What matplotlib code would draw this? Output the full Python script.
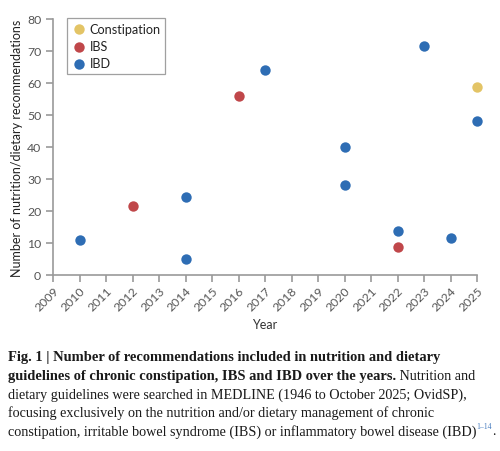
import matplotlib
matplotlib.use("Agg")
import matplotlib.pyplot as plt

# ---- data ----
years_constipation = [2025]
vals_constipation = [58.7]
years_ibs = [2012, 2016, 2022]
vals_ibs = [21.7, 56.0, 8.8]
years_ibd = [2010, 2014, 2014, 2017, 2020, 2020, 2022, 2023, 2024, 2025]
vals_ibd = [11.0, 24.3, 4.9, 64.2, 39.9, 28.1, 13.9, 71.5, 11.7, 48.0]
xticks = list(range(2009, 2026))
yticks = [0, 10, 20, 30, 40, 50, 60, 70, 80]

c_con = "#E3C466"
c_ibs = "#C0474A"
c_ibd = "#2E6DB4"

plt.rcParams['font.family'] = ['Lato', 'DejaVu Sans']

W, H = 500, 452
fig = plt.figure(figsize=(W / 100, H / 100), dpi=100)
ax = fig.add_axes([53 / W, 1 - 276 / H, (477 - 53) / W, (276 - 20) / H])

ms = 56
ax.scatter(years_constipation, vals_constipation, s=ms, color=c_con, label="Constipation", zorder=3, linewidths=0)
ax.scatter(years_ibs, vals_ibs, s=ms, color=c_ibs, label="IBS", zorder=3, linewidths=0)
ax.scatter(years_ibd, vals_ibd, s=ms, color=c_ibd, label="IBD", zorder=3, linewidths=0)

ax.set_xlim(2009, 2025)
ax.set_ylim(0, 80)
ax.set_xticks(xticks)
ax.set_xticklabels([str(t) for t in xticks], rotation=45, ha='right', rotation_mode='anchor')
ax.set_yticks(yticks)
for s in ['top', 'right']:
    ax.spines[s].set_visible(False)
for s in ['left', 'bottom']:
    ax.spines[s].set_color('#9a9a9a')
    ax.spines[s].set_linewidth(1.2)
ax.tick_params(axis='both', colors='#9a9a9a', length=5, width=1.2, labelsize=8.8, labelcolor='#555555')
ax.tick_params(axis='x', pad=2)
for sp in ax.spines.values():
    sp.set_clip_on(False)
for c in ax.collections:
    c.set_clip_on(False)

ax.set_xlabel("Year", fontsize=9, color='#333333', labelpad=4)
ax.set_ylabel("Number of nutrition/dietary recommendations", fontsize=9, color='#222222', labelpad=3)

leg = ax.legend(loc='upper left', bbox_to_anchor=(14 / 424, 1.004), frameon=True, fancybox=False,
                fontsize=9.1, handletextpad=0.2, borderpad=0.38, labelspacing=0.42,
                handlelength=1.2, borderaxespad=0)
leg.get_frame().set_edgecolor('#888888')
leg.get_frame().set_linewidth(0.9)
for t in leg.get_texts():
    t.set_color('#222222')

# ---- caption ----
serif = ['Liberation Serif', 'DejaVu Serif']
renderer = fig.canvas.get_renderer()


def fit(s, target, bold=False):
    p = fig.text(0, 0, s, fontsize=10, family=serif, fontweight='bold' if bold else 'normal')
    w = p.get_window_extent(renderer).width
    p.remove()
    return 10 * target / w


line1 = "Fig. 1 | Number of recommendations included in nutrition and dietary"
fs = fit("dietary guidelines were searched in MEDLINE (1946 to October 2025; OvidSP),", 457)
fsb = fit(line1, 434, bold=True)

x0 = 8 / W
ys = [357.5, 376.5, 395, 413.5, 432]


def put(x, ypix, s, bold=False, color='#1a1a1a', size=None):
    t = fig.text(x, 1 - ypix / H, s, fontsize=size or (fsb if bold else fs), family=serif,
                 fontweight='bold' if bold else 'normal', color=color, va='center', ha='left')
    w = t.get_window_extent(renderer).width / W
    return x + w


put(x0, ys[0], line1, bold=True)
xe = put(x0, ys[1], "guidelines of chronic constipation, IBS and IBD over the years.", bold=True)
put(xe, ys[1], " Nutrition and")
put(x0, ys[2], "dietary guidelines were searched in MEDLINE (1946 to October 2025; OvidSP),")
put(x0, ys[3], "focusing exclusively on the nutrition and/or dietary management of chronic")
xe = put(x0, ys[4], "constipation, irritable bowel syndrome (IBS) or inflammatory bowel disease (IBD)")
xe = put(xe, ys[4] - 5, "1\u201314", color='#4a7fc0', size=fs * 0.55)
put(xe, ys[4], ".")

fig.savefig("out.png", dpi=100)
